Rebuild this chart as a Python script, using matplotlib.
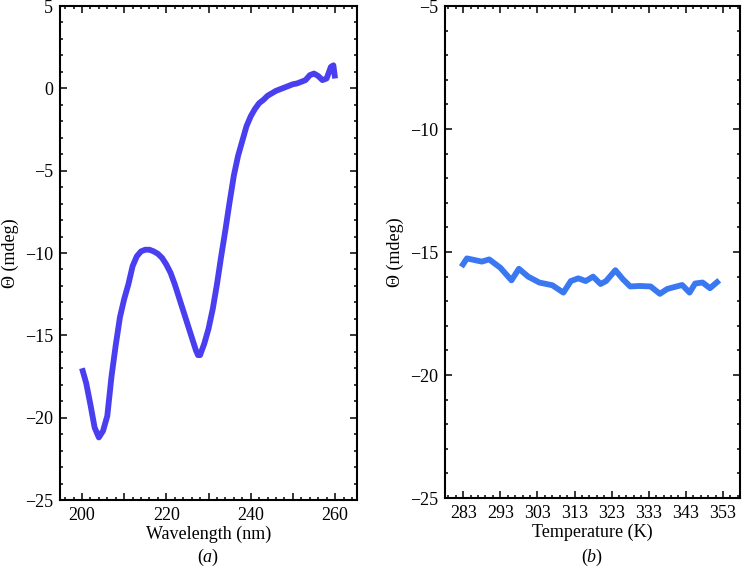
import matplotlib
matplotlib.use("Agg")
import matplotlib.pyplot as plt
from matplotlib.ticker import MultipleLocator, FixedLocator, FuncFormatter

plt.rcParams['font.family'] = ['Liberation Serif', 'DejaVu Serif']
plt.rcParams['mathtext.fontset'] = 'custom'
plt.rcParams['mathtext.rm'] = 'Liberation Serif'
plt.rcParams['mathtext.it'] = 'Liberation Serif:italic'

# (a) CD spectrum
wavelength = [200, 201, 202, 203, 204, 205, 206, 207, 208, 209,
              210, 211, 212, 213, 214, 215, 216, 217, 218, 219,
              220, 221, 222, 223, 224, 225, 226, 227, 227.5, 228, 229,
              230, 231, 232, 233, 234, 235, 236, 237, 238, 239,
              240, 241, 242, 243, 244, 245, 246, 247, 248, 249,
              250, 251, 252, 253, 254, 255, 256, 257, 258, 259, 259.6, 260]
theta_a = [-17.0, -17.9, -19.2, -20.6, -21.2, -20.8, -19.9, -17.5, -15.6, -13.9,
           -12.8, -11.9, -10.8, -10.2, -9.9, -9.8, -9.8, -9.9, -10.05, -10.3,
           -10.7, -11.2, -11.9, -12.7, -13.5, -14.3, -15.1, -15.9, -16.2, -16.2, -15.5,
           -14.6, -13.4, -11.9, -10.2, -8.6, -6.9, -5.3, -4.1, -3.2, -2.3,
           -1.7, -1.25, -0.9, -0.7, -0.45, -0.3, -0.15, -0.05, 0.05, 0.15,
           0.25, 0.3, 0.4, 0.5, 0.8, 0.9, 0.75, 0.5, 0.6, 1.3, 1.4, 0.6]

# (b) thermal scan
temperature = [282.5, 284, 288, 290, 293, 296, 298, 300.5, 303.5, 307,
               310, 312, 314, 316, 318, 320, 321.5, 324, 326, 328,
               330.5, 333.5, 336, 338, 342, 344, 345.5, 347.5, 349.5, 352]
theta_b = [-15.6, -15.26, -15.39, -15.3, -15.64, -16.15, -15.68, -16.0, -16.24, -16.35,
           -16.65, -16.18, -16.07, -16.18, -16.0, -16.3, -16.18, -15.74, -16.1, -16.4,
           -16.38, -16.4, -16.7, -16.5, -16.34, -16.65, -16.28, -16.24, -16.47, -16.15]
temp_ticks = [283, 293, 303, 313, 323, 333, 343, 353]

fig = plt.figure(figsize=(7.43, 5.68), dpi=100)
ax1 = fig.add_axes([0.0808, 0.1197, 0.3997, 0.8697])
ax2 = fig.add_axes([0.599, 0.1232, 0.397, 0.8662])

ax1.plot(wavelength, theta_a, color='#4a3ff0', lw=4.2, solid_capstyle='butt')
ax2.plot(temperature, theta_b, color='#3a78f2', lw=4.2, solid_capstyle='butt')

ax1.set_xlim(194.8, 265.2)
ax1.set_ylim(-25, 5)
ax1.xaxis.set_major_locator(MultipleLocator(10))
ax1.xaxis.set_minor_locator(MultipleLocator(2))
ax1.xaxis.set_major_formatter(FuncFormatter(lambda v, p: '%d' % v if int(round(v)) % 20 == 0 else ''))
ax1.yaxis.set_major_locator(MultipleLocator(5))
ax1.yaxis.set_minor_locator(MultipleLocator(1))
ax1.set_xlabel('Wavelength (nm)', fontsize=13, labelpad=1)

ax2.set_xlim(278.1, 357.6)
ax2.set_ylim(-25, -5)
ax2.xaxis.set_major_locator(FixedLocator(temp_ticks))
ax2.xaxis.set_minor_locator(MultipleLocator(2, offset=1))
ax2.yaxis.set_major_locator(MultipleLocator(5))
ax2.yaxis.set_minor_locator(MultipleLocator(1))
ax2.set_xlabel('Temperature (K)', fontsize=13, labelpad=1)

for ax in (ax1, ax2):
    ax.set_ylabel('Θ (mdeg)', fontsize=13)
    ax.tick_params(which='both', direction='in', top=True, right=True,
                   labelsize=13, width=1.1)
    ax.tick_params(which='major', length=5, pad=5)
    ax.tick_params(which='minor', length=2.5)
    for s in ax.spines.values():
        s.set_linewidth(1.5)

fig.text(0.2806, 0.01, r'($\mathit{a}$)', ha='center', fontsize=13)
fig.text(0.7975, 0.01, r'($\mathit{b}$)', ha='center', fontsize=13)

fig.savefig('out.png', dpi=100)
